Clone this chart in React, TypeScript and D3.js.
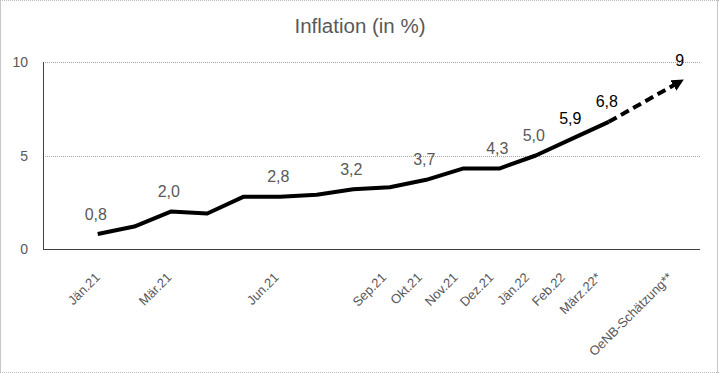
import React from "react";
import * as d3 from "d3";

const categories = ["_pad0","Jän.21","Feb.21","Mär.21","Apr.21","Mai.21","Jun.21","Jul.21","Aug.21","Sep.21","Okt.21","Nov.21","Dez.21","Jän.22","Feb.22","März.22*","_pad1","OeNB-Schätzung**"];
const months = ["Jän.21","Feb.21","Mär.21","Apr.21","Mai.21","Jun.21","Jul.21","Aug.21","Sep.21","Okt.21","Nov.21","Dez.21","Jän.22","Feb.22","März.22*"];
const inflation = [0.8, 1.2, 2.0, 1.9, 2.8, 2.8, 2.9, 3.2, 3.3, 3.7, 4.3, 4.3, 5.0, 5.9, 6.8];
const forecastCategory = "OeNB-Schätzung**";
const forecastValue = 9;
const tickLabels = ["Jän.21","Mär.21","Jun.21","Sep.21","Okt.21","Nov.21","Dez.21","Jän.22","Feb.22","März.22*","OeNB-Schätzung**"];
const labeledPoints = ["Jän.21","Mär.21","Jun.21","Aug.21","Okt.21","Dez.21","Jän.22","Feb.22","März.22*","OeNB-Schätzung**"];
const darkLabels = ["Feb.22","März.22*","OeNB-Schätzung**"];
const yTicks = [0, 5, 10];
const title = "Inflation (in %)";

const W = 719, H = 373;
const FONT = "'Liberation Sans', Arial, sans-serif";

export default function App() {
  const x = d3.scaleBand<string>().domain(categories).range([43, 700]).paddingInner(0).paddingOuter(0);
  const xLab = d3.scaleBand<string>().domain(categories).range([44, 688]);
  const cx = (c: string) => (x(c) as number) + x.bandwidth() / 2;
  const cxl = (c: string) => (xLab(c) as number) + xLab.bandwidth() / 2;
  const y = d3.scaleLinear().domain([0, 10]).range([249, 62]);

  const pts: [string, number][] = months.map((m, i) => [m, inflation[i]]);
  const allPts: [string, number][] = [...pts, [forecastCategory, forecastValue]];
  const line = d3.line<[string, number]>().x(d => cx(d[0])).y(d => y(d[1]));
  const solidPath = line(pts) as string;
  const last = pts[pts.length - 1];
  const dashPath = line([last, [forecastCategory, forecastValue]]) as string;

  return (
    <svg width={W} height={H} style={{ position: "absolute", left: 0, top: 0, background: "#fff" }} fontFamily={FONT}>
      <defs>
        <marker id="arrow" viewBox="0 0 10 10" refX="8" refY="5" markerWidth="3" markerHeight="3" orient="auto" markerUnits="strokeWidth">
          <path d="M0,0 L10,5 L0,10 z" fill="#000" />
        </marker>
      </defs>
      <rect x={0} y={0} width={W} height={H} fill="#fff" />
      <line x1={0.5} x2={0.5} y1={0} y2={H} stroke="#c8c8c8" />
      <line x1={W - 1.5} x2={W - 1.5} y1={0} y2={H} stroke="#c8c8c8" />
      <line x1={0} x2={W} y1={0.5} y2={0.5} stroke="#bbb" strokeDasharray="1,1" />
      <line x1={0} x2={W} y1={H - 0.5} y2={H - 0.5} stroke="#bbb" strokeDasharray="1,1" />

      <text x={360} y={33} textAnchor="middle" fontSize={20.5} fill="#595959">{title}</text>

      {yTicks.map(t => (
        <g key={t}>
          {t > 0 && (
            <line x1={43} x2={700} y1={Math.round(y(t)) + 0.5} y2={Math.round(y(t)) + 0.5} stroke="#a6a6a6" strokeDasharray="1,1" />
          )}
          <text x={28} y={y(t)} textAnchor="end" dominantBaseline="central" fontSize={14} fill="#595959">{t}</text>
        </g>
      ))}
      <line x1={43.5} x2={43.5} y1={62} y2={249} stroke="#404040" />
      <line x1={43} x2={700} y1={249.5} y2={249.5} stroke="#404040" />

      {tickLabels.map(c => (
        <text key={c} transform={`translate(${cxl(c)},275) rotate(-45)`} textAnchor="end" dominantBaseline="central" fontSize={13} fill="#595959">{c}</text>
      ))}

      <path d={solidPath} fill="none" stroke="#000" strokeWidth={4} strokeLinejoin="round" />
      <path d={dashPath} fill="none" stroke="#000" strokeWidth={4} strokeDasharray="9,5" markerEnd="url(#arrow)" />

      {allPts.filter(p => labeledPoints.includes(p[0])).map(p => (
        <text key={p[0]} x={cx(p[0]) - 2} y={y(p[1]) - 20} textAnchor="middle" dominantBaseline="central" fontSize={16}
          fill={darkLabels.includes(p[0]) ? "#000" : "#595959"}>
          {d3.format(p[0] === forecastCategory ? "d" : ".1f")(p[1]).replace(".", ",")}
        </text>
      ))}
    </svg>
  );
}
